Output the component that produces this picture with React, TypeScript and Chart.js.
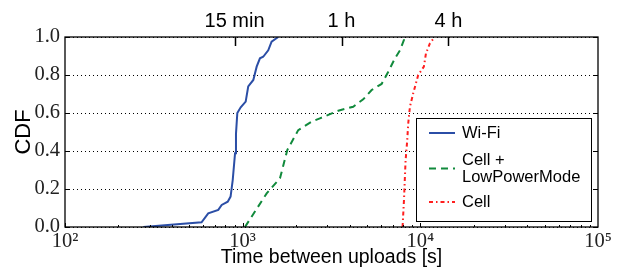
import React, { useEffect, useRef } from "react";
import { Chart, registerables } from "chart.js";
Chart.register(...registerables);

// ---- data ----
const wifiX = [276, 587, 640, 729, 762, 824, 855, 879, 906, 917, 933, 975, 1040, 1075, 1148, 1199, 1251, 1305, 1393, 1455, 1585];
const wifiY = [0, 0.025, 0.072, 0.09, 0.116, 0.133, 0.16, 0.247, 0.388, 0.49, 0.6, 0.63, 0.66, 0.74, 0.774, 0.844, 0.888, 0.896, 0.93, 0.975, 1.0];
const lpmX = [1030, 1365, 1622, 1783, 2055, 2443, 2721, 3451, 4188, 4770, 5320, 6055, 6600, 7200, 7680, 8090, 8090];
const lpmY = [0, 0.177, 0.256, 0.405, 0.51, 0.554, 0.572, 0.612, 0.633, 0.672, 0.721, 0.753, 0.817, 0.888, 0.93, 0.985, 1.0];
const cellX = [7943, 8090, 8260, 8440, 8550, 8740, 9120, 9730, 10470, 10760, 11330, 11830, 12000];
const cellY = [0, 0.142, 0.35, 0.458, 0.546, 0.633, 0.704, 0.8, 0.844, 0.914, 0.967, 0.99, 1.0];

const seriesNames = ["Wi-Fi", "Cell +\nLowPowerMode", "Cell"];
const bottomTicks = [100, 1000, 10000, 100000];
const bottomTickLabels = ["10²", "10³", "10⁴", "10⁵"];
const topTicks = [900, 3600, 14400];
const topTickLabels = ["15 min", "1 h", "4 h"];
const yTicks = [0, 0.2, 0.4, 0.6, 0.8, 1.0];

const COLORS = ["#2b4ea6", "#118a3c", "#ff1f1f"];
const DASHES: number[][] = [[], [7, 5], [4, 3, 1.5, 3]];

const SANS = "'Liberation Sans', Arial, Helvetica, sans-serif";
const SERIF = "'Liberation Serif', 'Times New Roman', serif";

const zip = (xs: number[], ys: number[]) => xs.map((x, i) => ({ x, y: ys[i] }));

const framePlugin = {
  id: "frame",
  beforeDatasetsDraw(chart: any) {
    const { ctx, chartArea: a, scales } = chart;
    const y = scales.y;
    ctx.save();
    ctx.strokeStyle = "#000";
    ctx.lineWidth = 1;
    ctx.setLineDash([1, 3]);
    yTicks.forEach((v) => {
      const py = Math.round(y.getPixelForValue(v)) + 0.5;
      ctx.beginPath();
      ctx.moveTo(a.left, py);
      ctx.lineTo(a.right, py);
      ctx.stroke();
    });
    ctx.restore();
  },
  afterDatasetsDraw(chart: any) {
    const { ctx, chartArea: a, scales } = chart;
    const x = scales.x;
    const y = scales.y;
    ctx.save();
    ctx.strokeStyle = "#000";
    ctx.setLineDash([]);
    ctx.lineWidth = 1.3;
    ctx.strokeRect(a.left, a.top, a.right - a.left, a.bottom - a.top);
    ctx.lineWidth = 1;
    // bottom ticks (inward)
    for (let d = 2; d <= 4; d++) {
      for (let k = 1; k <= 9; k++) {
        const v = k * Math.pow(10, d);
        const px = Math.round(x.getPixelForValue(v)) + 0.5;
        const len = k === 1 ? 4 : 2;
        ctx.beginPath();
        ctx.moveTo(px, a.bottom);
        ctx.lineTo(px, a.bottom - len);
        ctx.stroke();
      }
    }
    // y ticks (inward, both sides)
    yTicks.forEach((v) => {
      const py = Math.round(y.getPixelForValue(v)) + 0.5;
      ctx.beginPath();
      ctx.moveTo(a.right, py);
      ctx.lineTo(a.right - 5, py);
      ctx.moveTo(a.left, py);
      ctx.lineTo(a.left + 5, py);
      ctx.stroke();
    });
    // top ticks
    ctx.lineWidth = 1.5;
    topTicks.forEach((v) => {
      const px = Math.round(x.getPixelForValue(v)) + 0.5;
      ctx.beginPath();
      ctx.moveTo(px, a.top);
      ctx.lineTo(px, a.top + 9);
      ctx.stroke();
    });
    ctx.restore();
  },
  afterDraw(chart: any) {
    const { ctx, chartArea: a } = chart;
    const r = a.right - 7;
    const b = a.bottom - 6;
    const w = 175;
    const h = 103;
    const l = r - w;
    const t = b - h;
    ctx.save();
    ctx.fillStyle = "#fff";
    ctx.fillRect(l, t, w, h);
    ctx.strokeStyle = "#000";
    ctx.lineWidth = 1;
    ctx.strokeRect(l + 0.5, t + 0.5, w, h);
    ctx.font = `16.5px ${SANS}`;
    ctx.fillStyle = "#000";
    ctx.textBaseline = "middle";
    const rows = [
      { lines: seriesNames[0].split("\n"), yc: t + 15 },
      { lines: seriesNames[1].split("\n"), yc: t + 50.5 },
      { lines: seriesNames[2].split("\n"), yc: t + 84 },
    ];
    rows.forEach((row, i) => {
      ctx.strokeStyle = COLORS[i];
      ctx.lineWidth = 2;
      ctx.setLineDash(DASHES[i]);
      ctx.beginPath();
      ctx.moveTo(l + 13, row.yc);
      ctx.lineTo(l + 39, row.yc);
      ctx.stroke();
      ctx.setLineDash([]);
      const n = row.lines.length;
      row.lines.forEach((txt, j) => {
        ctx.fillText(txt, l + 46, row.yc + (j - (n - 1) / 2) * 17);
      });
    });
    ctx.restore();
  },
};

export default function App() {
  const ref = useRef<HTMLCanvasElement>(null);
  useEffect(() => {
    if (!ref.current) return;
    const chart = new Chart(ref.current, {
      type: "scatter",
      data: {
        datasets: [
          { label: "Wi-Fi", data: zip(wifiX, wifiY) },
          { label: "Cell + LowPowerMode", data: zip(lpmX, lpmY) },
          { label: "Cell", data: zip(cellX, cellY) },
        ].map((d, i) => ({
          ...d,
          showLine: true,
          borderColor: COLORS[i],
          backgroundColor: COLORS[i],
          borderWidth: 2,
          borderDash: DASHES[i],
          pointRadius: 0,
          tension: 0,
        })),
      },
      options: {
        animation: false,
        responsive: false,
        layout: { padding: { left: 0, right: 24, top: 0, bottom: 0 } },
        plugins: { legend: { display: false }, tooltip: { enabled: false } },
        scales: {
          x: {
            type: "logarithmic",
            position: "bottom",
            min: 100,
            max: 100000,
            grid: { display: false, drawTicks: false },
            border: { display: false },
            afterBuildTicks: (s: any) => {
              s.ticks = bottomTicks.map((v) => ({ value: v }));
            },
            afterFit: (s: any) => {
              s.height = 42;
            },
            ticks: {
              autoSkip: false,
              maxRotation: 0,
              padding: 2,
              color: "#222",
              font: { family: SERIF, size: 20.5 },
              callback: (v: any) => {
                const i = bottomTicks.indexOf(Number(v));
                return i >= 0 ? bottomTickLabels[i] : "";
              },
            },
            title: {
              display: true,
              text: "Time between uploads [s]",
              color: "#000",
              font: { family: SANS, size: 19.5 },
              padding: { top: 0, bottom: 0 },
            },
          },
          x2: {
            type: "logarithmic",
            position: "top",
            min: 100,
            max: 100000,
            grid: { display: false, drawTicks: false },
            border: { display: false },
            afterBuildTicks: (s: any) => {
              s.ticks = topTicks.map((v) => ({ value: v }));
            },
            afterFit: (s: any) => {
              s.height = 37;
            },
            ticks: {
              autoSkip: false,
              maxRotation: 0,
              padding: 4,
              color: "#000",
              font: { family: SANS, size: 20 },
              callback: (v: any) => {
                const i = topTicks.indexOf(Number(v));
                return i >= 0 ? topTickLabels[i] : "";
              },
            },
          },
          y: {
            min: 0,
            max: 1,
            grid: { display: false, drawTicks: false },
            border: { display: false },
            afterBuildTicks: (s: any) => {
              s.ticks = yTicks.map((v) => ({ value: v }));
            },
            afterFit: (s: any) => {
              s.width = 65;
            },
            ticks: {
              padding: 5,
              color: "#222",
              font: { family: SERIF, size: 20.5 },
              callback: (v: any) => Number(v).toFixed(1),
            },
            title: {
              display: true,
              text: "CDF",
              color: "#000",
              font: { family: SANS, size: 22 },
              padding: { top: 11, bottom: 0 },
            },
          },
        },
      },
      plugins: [framePlugin],
    } as any);
    return () => chart.destroy();
  }, []);
  return (
    <div style={{ position: "fixed", left: 0, top: 0, width: 622, height: 269, background: "#fff" }}>
      <canvas ref={ref} width={622} height={269} style={{ display: "block" }} />
    </div>
  );
}
